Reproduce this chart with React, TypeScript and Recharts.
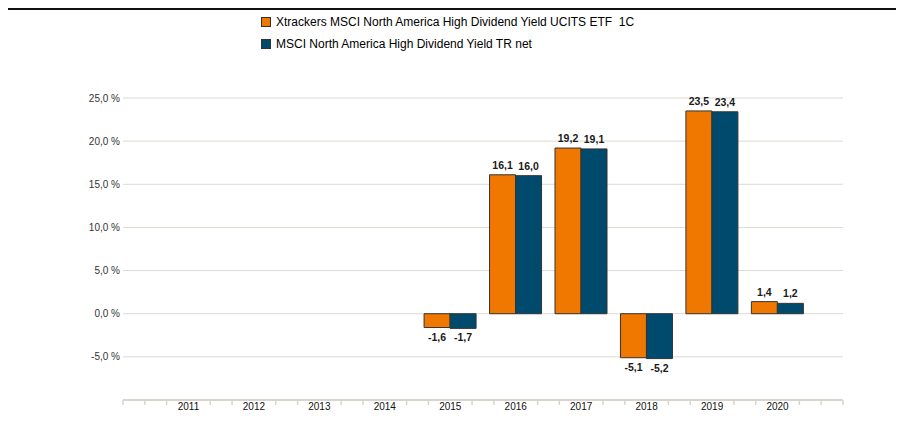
import React from 'react';
import { BarChart, Bar, XAxis, YAxis, CartesianGrid, LabelList } from 'recharts';

const years = ['2011', '2012', '2013', '2014', '2015', '2016', '2017', '2018', '2019', '2020'];
const etfReturns: (number | null)[] = [null, null, null, null, -1.6, 16.1, 19.2, -5.1, 23.5, 1.4];
const indexReturns: (number | null)[] = [null, null, null, null, -1.7, 16.0, 19.1, -5.2, 23.4, 1.2];
const seriesNames = [
  'Xtrackers MSCI North America High Dividend Yield UCITS ETF  1C',
  'MSCI North America High Dividend Yield TR net',
];
const seriesColors = ['#f07800', '#004a6d'];
const yTicks = [-5, 0, 5, 10, 15, 20, 25];
const yDomain: [number, number] = [-10, 25];

const data = years.map((year, i) => ({ year, etf: etfReturns[i], index: indexReturns[i] }));

const FONT = '"Liberation Sans", Arial, sans-serif';
const W = 896;
const H = 420;
const MARGIN = { top: 88, right: 61, bottom: 0, left: 0 };
const Y_W = 115;
const X_H = 30;
const PLOT_W = W - MARGIN.left - MARGIN.right - Y_W;
const BAND = PLOT_W / (years.length + 1);
const PAD = BAND / 2;
const AXIS_COLOR = '#d9d5cc';

const fmt = (v: number) => v.toFixed(1).replace('.', ',');

const YTick = (props: any) => {
  const { x, y, payload } = props;
  return (
    <text x={x} y={y} dy={3.5} textAnchor="end" fontSize={10} fill="#333" fontFamily={FONT}>
      {fmt(Number(payload.value)) + ' %'}
    </text>
  );
};

const XTick = (props: any) => {
  const { x, y, payload, index } = props;
  const offsets = [BAND / 3, (2 * BAND) / 3];
  if (index === 0) offsets.push(-BAND / 3, (-2 * BAND) / 3, -BAND);
  if (index === years.length - 1) offsets.push(BAND);
  return (
    <g>
      {offsets.map((o, i) => (
        <line key={i} x1={x + o} x2={x + o} y1={y} y2={y + 5} stroke={AXIS_COLOR} strokeWidth={1.5} />
      ))}
      <text x={x} y={y} dy={10} textAnchor="middle" fontSize={10} fill="#111" fontFamily={FONT}>
        {payload.value}
      </text>
    </g>
  );
};

const ValueLabel = (props: any) => {
  const { x, y, width, height, value } = props;
  if (value === null || value === undefined) return null;
  const v = Number(value);
  const yy = Number(y);
  const hh = Number(height);
  const top = Math.min(yy, yy + hh);
  const bottom = Math.max(yy, yy + hh);
  const cx = Number(x) + Number(width) / 2;
  const ty = v >= 0 ? top - 6 : bottom + 13;
  return (
    <text x={cx} y={ty} textAnchor="middle" fontSize={10.5} fontWeight="bold" fill="#1a1a1a" fontFamily={FONT}>
      {fmt(v)}
    </text>
  );
};

export default function App() {
  return (
    <div
      style={{
        position: 'relative',
        margin: '0 0 -8px -2px',
        width: 898,
        height: 422,
        borderTop: '2px solid #111',
        borderLeft: '2px solid #222',
        boxSizing: 'border-box',
        overflow: 'hidden',
        background: '#fff',
      }}
    >
      <BarChart
        width={W}
        height={H}
        data={data}
        margin={MARGIN}
        barGap={0}
        barCategoryGap="10%"
      >
        <CartesianGrid vertical={false} stroke="#dedad3" strokeWidth={1} />
        <XAxis
          dataKey="year"
          interval={0}
          height={X_H}
          padding={{ left: PAD, right: PAD }}
          axisLine={{ stroke: AXIS_COLOR, strokeWidth: 2 }}
          tickLine={false}
          tickSize={0}
          tickMargin={0}
          tick={<XTick />}
        />
        <YAxis
          width={Y_W}
          domain={yDomain}
          ticks={yTicks}
          allowDataOverflow
          axisLine={false}
          tickLine={false}
          tickSize={0}
          tickMargin={3}
          tick={<YTick />}
        />
        <Bar dataKey="etf" fill={seriesColors[0]} stroke="#333" strokeWidth={1} isAnimationActive={false}>
          <LabelList dataKey="etf" content={<ValueLabel />} />
        </Bar>
        <Bar dataKey="index" fill={seriesColors[1]} stroke="#333" strokeWidth={1} isAnimationActive={false}>
          <LabelList dataKey="index" content={<ValueLabel />} />
        </Bar>
      </BarChart>
      <div style={{ position: 'absolute', left: 253, top: 0, fontFamily: FONT, fontSize: 12, color: '#000' }}>
        {seriesNames.map((name, i) => (
          <div
            key={i}
            style={{ position: 'absolute', left: 0, top: 5 + i * 21.5, height: 14, whiteSpace: 'pre', display: 'flex', alignItems: 'center' }}
          >
            <span
              style={{
                display: 'inline-block',
                width: 8,
                height: 8,
                background: seriesColors[i],
                border: '1px solid #333',
                marginRight: 5,
              }}
            />
            <span style={{ lineHeight: '14px' }}>{name}</span>
          </div>
        ))}
      </div>
    </div>
  );
}
